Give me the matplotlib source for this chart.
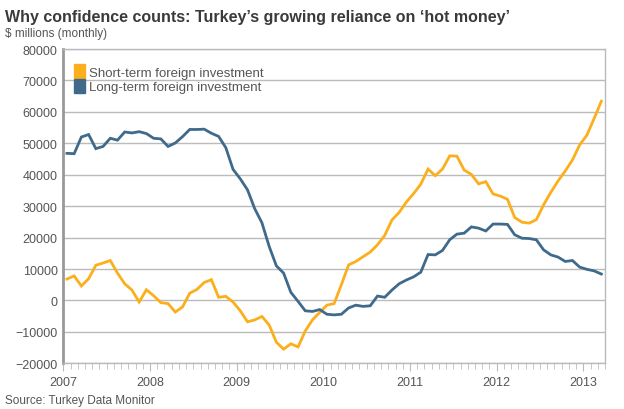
import numpy as np
import matplotlib
matplotlib.use('Agg')
import matplotlib.pyplot as plt
from matplotlib.patches import Patch
from matplotlib.ticker import MultipleLocator

plt.rcParams['font.family'] = ['Liberation Sans', 'DejaVu Sans']

# monthly values, Jan 2007 - Mar 2013 ($ millions)
short_term = [6800, 7800, 4600, 6900, 11200, 11900, 12700, 8700, 5300, 3300,
              -500, 3400, 1500, -700, -1000, -3700, -2100, 2300, 3500, 5700,
              6600, 1000, 1300, -500, -3300, -6800, -6200, -5100, -7800, -13300,
              -15500, -13800, -14800, -9700, -6200, -3800, -1500, -1000, 5000, 11300,
              12400, 13900, 15400, 17700, 20700, 25600, 28000, 31300, 34000, 37000,
              41800, 39700, 41800, 46000, 45900, 41500, 40100, 37100, 37800, 33900,
              33200, 32200, 26400, 24900, 24600, 25700, 30400, 34400, 38000, 41200,
              44700, 49500, 52600, 57900, 63400]
long_term = [46800, 46700, 52000, 52800, 48300, 49000, 51600, 51000, 53600, 53300,
             53700, 53100, 51600, 51400, 49000, 50100, 52100, 54400, 54400, 54500,
             53200, 52200, 48600, 41700, 38700, 35200, 29200, 24700, 17200, 11000,
             8700, 2600, -300, -3300, -3500, -2900, -4400, -4600, -4400, -2400,
             -1500, -1900, -1700, 1400, 1000, 3300, 5300, 6500, 7500, 9000,
             14600, 14500, 15900, 19300, 21100, 21400, 23400, 23000, 22100, 24300,
             24300, 24200, 20900, 19800, 19700, 19300, 16100, 14500, 13800, 12400,
             12700, 10600, 9900, 9400, 8400]
years = [2007, 2008, 2009, 2010, 2011, 2012, 2013]

months = 2007 + (np.arange(len(short_term)) + 0.5) / 12.0

fig = plt.figure(figsize=(6.24, 4.10), dpi=100)
ax = fig.add_axes([0.1015, 0.1115, 0.868, 0.7665])

orange = '#FBAF1B'
blue = '#3F6A8B'
ax.plot(months, short_term, color=orange, lw=2.0, solid_joinstyle='miter')
ax.plot(months, long_term, color=blue, lw=2.0, solid_joinstyle='miter')

ax.set_xlim(2007, 2013.25)
ax.set_ylim(-20000, 80000)
ax.set_yticks(range(-20000, 80001, 10000))
ax.set_xticks(years)
ax.set_xticklabels([str(y) for y in years])
ax.xaxis.set_minor_locator(MultipleLocator(1 / 12.0))

ax.grid(axis='y', color='#BBBBBB', lw=1.0)
ax.set_axisbelow(True)
for s in ['top', 'right', 'bottom']:
    ax.spines[s].set_color('#BBBBBB')
    ax.spines[s].set_linewidth(1.0)
ax.spines['left'].set_color('#999999')
ax.spines['left'].set_linewidth(2.0)

ax.tick_params(axis='y', length=0, pad=4, labelsize=9, labelcolor='#555555')
ax.tick_params(axis='x', which='major', length=6, color='#BBBBBB', pad=3,
               labelsize=9, labelcolor='#555555')
ax.tick_params(axis='x', which='minor', length=4, color='#BBBBBB')

handles = [Patch(color=orange, label='Short-term foreign investment'),
           Patch(color=blue, label='Long-term foreign investment')]
leg = ax.legend(handles=handles, loc='upper left', frameon=False, fontsize=9.5,
                handlelength=0.85, handleheight=1.2, handletextpad=0.3,
                labelspacing=0.05, borderaxespad=0.5, borderpad=0.3,
                bbox_to_anchor=(0.0, 0.985))
for t in leg.get_texts():
    t.set_color('#555555')

fig.text(0.008, 0.958, "Why confidence counts: Turkey\u2019s growing reliance on \u2018hot money\u2019",
         fontsize=11.5, fontweight='bold', color='#3A3A3A', va='center')
fig.text(0.008, 0.918, "$ millions (monthly)", fontsize=8.5, color='#555555', va='center')
fig.text(0.008, 0.022, "Source: Turkey Data Monitor", fontsize=8.5, color='#555555', va='center')

fig.savefig('out.png', dpi=100)
